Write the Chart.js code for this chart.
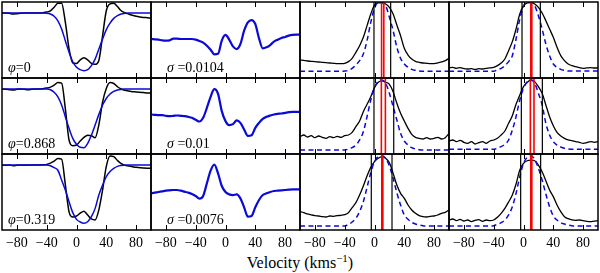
<!DOCTYPE html>
<html>
<head>
<meta charset="utf-8">
<script src="https://cdn.jsdelivr.net/npm/chart.js@4.4.1/dist/chart.umd.min.js"></script>
<style>
html, body { margin: 0; padding: 0; background: #fff; }
#fig { position: relative; width: 600px; height: 273px; overflow: hidden; }
#fig canvas { position: absolute; }
#xlabel { position: absolute; left: 0; top: 254px; width: 600px; text-align: center;
  font: 16px "Liberation Serif", serif; line-height: 18px; color: #000; }
#xlabel sup { font-size: 11px; vertical-align: 6px; line-height: 0; }
</style>
</head>
<body>
<div id="fig"><div id="xlabel">Velocity (kms<sup>−1</sup>)</div></div>
<script>
// velocity grid, km/s
const vel = [-100, -95, -90, -85, -80, -75, -70, -65, -60, -55, -50, -45, -40, -35, -30, -25, -20, -15, -10, -5,
  0, 5, 10, 15, 20, 25, 30, 35, 40, 45, 50, 55, 60, 65, 70, 75, 80, 85, 90, 95, 100];
const tickVel = [-80, -40, 0, 40, 80];
const phases = ['0', '0.868', '0.319'];
const sigmas = ['0.0104', '0.01', '0.0076'];

// column 1: observed (black) and model (blue) absorption profiles
const obsPhi0 = [1.00, 1.00, 0.995, 0.985, 0.99, 0.995, 1.00, 1.00, 1.00, 1.00, 1.00, 1.005, 1.015,
  1.035, 1.09, 1.15, 1.15, 0.86, 0.45, 0.23, 0.225,
  0.28, 0.31, 0.28, 0.225, 0.21, 0.27, 0.65, 1.035, 1.14, 1.15,
  1.10, 1.035, 1.005, 0.985, 0.965, 0.95, 0.94, 0.933, 0.928, 0.923];
const modPhi0 = [1, 1, 1, 1, 1, 1, 1, 1, 1, 1, 1, 1, 0.998,
  0.985, 0.95, 0.88, 0.755, 0.575, 0.395, 0.25, 0.165,
  0.128, 0.113, 0.128, 0.19, 0.29, 0.445, 0.60, 0.745, 0.845, 0.918,
  0.96, 0.985, 0.995, 1, 1, 1, 1, 1, 1, 1];
const obsPhi868 = [0.995, 0.995, 0.99, 0.985, 0.995, 1.0, 0.995, 0.99, 0.995, 1.0, 1.0, 1.005, 1.015,
  1.03, 1.06, 1.10, 1.09, 0.70, 0.215, 0.128, 0.138,
  0.20, 0.256, 0.29, 0.28, 0.25, 0.45, 0.80, 1.01, 1.10, 1.085,
  1.035, 1.0, 0.98, 0.97, 0.96, 0.955, 0.95, 0.945, 0.94, 0.94];
const modPhi868 = [1, 1, 1, 1, 1, 1, 1, 1, 1, 1, 1, 1, 1,
  0.99, 0.95, 0.88, 0.755, 0.575, 0.395, 0.24, 0.15,
  0.103, 0.097, 0.164, 0.29, 0.445, 0.61, 0.755, 0.855, 0.923, 0.964,
  0.985, 0.995, 1, 1, 1, 1, 1, 1, 1, 1];
const obsPhi319 = [1.0, 0.995, 1.0, 0.99, 0.995, 1.0, 0.995, 1.0, 1.0, 1.0, 1.0, 1.005, 1.01,
  1.03, 1.06, 1.10, 1.09, 0.70, 0.28, 0.20, 0.215,
  0.26, 0.29, 0.23, 0.17, 0.155, 0.31, 0.615, 0.98, 1.14, 1.13,
  1.07, 1.02, 0.995, 0.985, 0.975, 0.965, 0.96, 0.955, 0.952, 0.95];
const modPhi319 = [1, 1, 1, 1, 1, 1, 1, 1, 1, 1, 1, 1, 1,
  0.99, 0.96, 0.92, 0.77, 0.615, 0.435, 0.267, 0.164,
  0.123, 0.103, 0.128, 0.205, 0.333, 0.538, 0.69, 0.82, 0.90, 0.95,
  0.98, 0.993, 1, 1, 1, 1, 1, 1, 1, 1];

// column 2: residuals (per cent)
const residPhi0 = [0.105, 0.07, 0.035, -0.035, -0.07, -0.035, 0.14, 0.14, 0.105, 0.105, 0.105, 0.105, 0.035,
  -0.105, -0.28, -0.6, -1.02, -1.51, -1.45, -0.07, 0.53,
  0.035, -0.67, -0.95, -0.42, 0.98, 1.86, 2.1, 1.68, 0.175, -0.88,
  -0.77, -0.53, -0.175, 0.035, 0.21, 0.32, 0.46, 0.53, 0.56, 0.56];
const residPhi868 = [0.158, 0.123, 0.088, 0.088, 0.018, -0.018, 0.018, 0.053, 0.018, -0.018, -0.088, -0.193, -0.4,
  -0.58, -0.19, 0.86, 2.02, 2.82, 2.33, 0.51, -0.54,
  -0.96, -0.86, -0.47, -0.72, -1.42, -2.09, -2.02, -1.25, -0.72, -0.3,
  -0.09, 0.05, 0.16, 0.23, 0.26, 0.33, 0.4, 0.44, 0.44, 0.44];
const residPhi319 = [-0.14, -0.07, 0, 0.07, 0.14, 0.175, 0.21, 0.21, 0.14, 0.035, -0.07, -0.21, -0.42,
  -0.7, -0.42, 0.91, 2.25, 2.88, 1.96, 0.63, 0,
  -0.25, -0.32, -0.25, -0.67, -1.61, -2.6, -2.53, -1.61, -0.84, -0.32,
  -0.14, 0, 0.105, 0.14, 0.175, 0.21, 0.245, 0.28, 0.28, 0.28];

// columns 3 and 4: emission profiles, observed (black) and model (blue dashed)
const emObsA0 = [1.229, 1.222, 1.208, 1.201, 1.194, 1.187, 1.18, 1.173, 1.166, 1.159, 1.152, 1.152, 1.159,
  1.194, 1.264, 1.39, 1.53, 1.706, 1.952, 2.197, 2.387,
  2.43, 2.43, 2.408, 2.338, 2.197, 1.966, 1.741, 1.475, 1.334, 1.25,
  1.201, 1.18, 1.166, 1.159, 1.152, 1.152, 1.166, 1.187, 1.215, 1.264];
const emModA0 = [0.99, 0.99, 0.99, 0.99, 0.99, 0.99, 0.99, 0.99, 0.99, 0.99, 0.99, 0.99, 0.997,
  1.011, 1.054, 1.124, 1.215, 1.355, 1.636, 2.022, 2.317,
  2.44, 2.44, 2.373, 2.127, 1.846, 1.496, 1.264, 1.145, 1.075, 1.032,
  1.011, 0.997, 0.99, 0.99, 0.99, 0.99, 0.99, 0.99, 0.99, 0.99];
const emObsB0 = [1.061, 1.075, 1.054, 1.068, 1.046, 1.039, 1.046, 1.032, 1.046, 1.039, 1.054, 1.061, 1.075,
  1.11, 1.166, 1.25, 1.425, 1.615, 1.882, 2.197, 2.373,
  2.429, 2.44, 2.408, 2.338, 2.218, 2.057, 1.882, 1.706, 1.496, 1.32,
  1.215, 1.145, 1.11, 1.089, 1.068, 1.054, 1.061, 1.068, 1.061, 1.061];
const emModB0 = [0.99, 0.99, 0.99, 0.99, 0.99, 0.99, 0.99, 0.99, 0.99, 0.99, 0.99, 0.99, 0.99,
  1.025, 1.054, 1.11, 1.194, 1.32, 1.671, 2.092, 2.359,
  2.443, 2.44, 2.373, 2.162, 1.882, 1.566, 1.32, 1.145, 1.075, 1.032,
  1.011, 0.997, 0.997, 0.997, 0.997, 0.997, 0.997, 0.997, 0.997, 0.997];
const emObsA868 = [1.215, 1.25, 1.208, 1.236, 1.194, 1.229, 1.201, 1.18, 1.215, 1.194, 1.222, 1.201, 1.236,
  1.25, 1.306, 1.425, 1.545, 1.741, 1.896, 2.057, 2.247,
  2.36, 2.39, 2.36, 2.317, 2.16, 1.917, 1.706, 1.545, 1.39, 1.264,
  1.201, 1.18, 1.166, 1.194, 1.166, 1.18, 1.201, 1.166, 1.194, 1.285];
const emModA868 = [0.934, 0.934, 0.934, 0.934, 0.934, 0.934, 0.934, 0.934, 0.934, 0.934, 0.934, 0.934, 0.934,
  0.955, 0.983, 1.039, 1.145, 1.32, 1.636, 1.987, 2.247,
  2.387, 2.41, 2.339, 2.127, 1.846, 1.566, 1.285, 1.124, 1.039, 0.983,
  0.955, 0.941, 0.934, 0.934, 0.934, 0.934, 0.934, 0.934, 0.934, 0.934];
const emObsB868 = [1.124, 1.145, 1.11, 1.138, 1.096, 1.075, 1.11, 1.061, 1.089, 1.11, 1.075, 1.124, 1.145,
  1.18, 1.25, 1.334, 1.496, 1.657, 1.896, 2.092, 2.268,
  2.359, 2.41, 2.374, 2.268, 2.127, 1.882, 1.636, 1.446, 1.306, 1.229,
  1.18, 1.145, 1.131, 1.11, 1.096, 1.075, 1.089, 1.11, 1.096, 1.11];
const emModB868 = [0.948, 0.948, 0.948, 0.948, 0.948, 0.948, 0.948, 0.948, 0.948, 0.948, 0.948, 0.948, 0.948,
  0.976, 1.004, 1.054, 1.145, 1.355, 1.636, 1.987, 2.232,
  2.373, 2.41, 2.339, 2.127, 1.882, 1.496, 1.25, 1.11, 1.039, 0.997,
  0.969, 0.955, 0.948, 0.948, 0.948, 0.948, 0.948, 0.948, 0.948, 0.948];
const emObsA319 = [1.236, 1.215, 1.187, 1.166, 1.152, 1.145, 1.131, 1.124, 1.145, 1.138, 1.152, 1.159, 1.173,
  1.215, 1.32, 1.425, 1.587, 1.776, 1.987, 2.169, 2.289,
  2.36, 2.394, 2.36, 2.267, 2.043, 1.797, 1.622, 1.516, 1.376, 1.271,
  1.201, 1.152, 1.131, 1.124, 1.138, 1.145, 1.166, 1.201, 1.222, 1.271];
const emModA319 = [0.934, 0.934, 0.934, 0.934, 0.934, 0.934, 0.934, 0.934, 0.934, 0.934, 0.934, 0.934, 0.934,
  0.969, 1.018, 1.096, 1.236, 1.446, 1.748, 2.057, 2.289,
  2.394, 2.408, 2.36, 2.199, 1.938, 1.636, 1.376, 1.166, 1.075, 1.011,
  0.976, 0.955, 0.941, 0.934, 0.934, 0.934, 0.934, 0.934, 0.934, 0.934];
const emObsB319 = [1.061, 1.082, 1.046, 1.075, 1.039, 1.061, 1.025, 1.054, 1.068, 1.032, 1.061, 1.046, 1.061,
  1.117, 1.201, 1.306, 1.44, 1.587, 1.818, 2.113, 2.253,
  2.308, 2.32, 2.308, 2.218, 2.078, 1.889, 1.692, 1.552, 1.376, 1.236,
  1.131, 1.089, 1.061, 1.054, 1.061, 1.046, 1.032, 1.025, 1.039, 1.046];
const emModB319 = [0.934, 0.934, 0.934, 0.934, 0.934, 0.934, 0.934, 0.934, 0.934, 0.934, 0.934, 0.934, 0.941,
  0.969, 1.004, 1.06, 1.166, 1.341, 1.622, 1.973, 2.253,
  2.38, 2.408, 2.339, 2.15, 1.903, 1.608, 1.341, 1.145, 1.06, 1.004,
  0.976, 0.955, 0.941, 0.934, 0.934, 0.934, 0.934, 0.934, 0.934, 0.934];

// vertical markers (km/s) for the emission panels, row by row, col 3 then col 4
const blackMarks = [[-0.7, 21.7], [-2, 22.6], [-0.7, 25.8], [-2.9, 25.3], [-4.3, 23.5], [-3.8, 23]];
const redMarks = [[9.5, 12.5], [10.5], [9.2, 14.6], [9.2, 14.1], [10.5], [10.5]];

const colX = [2, 151, 300, 449];
const rowY = [2, 78, 154];
const panelW = 149, panelH = 76, pad = 2, axisH = 26;
const blue = '#0a0ad8';

Chart.defaults.font.family = '"Liberation Serif", "Times New Roman", serif';
Chart.defaults.font.size = 14;
Chart.defaults.color = '#000';

const pts = arr => vel.map((v, i) => ({x: v, y: arr[i]}));
const vline = (v, lo, hi) => [{x: v, y: lo}, {x: v, y: hi}];

const framePlugin = {
  id: 'frame',
  afterDraw(chart, args, opts) {
    const {ctx, chartArea: a} = chart;
    const xs = chart.scales.x;
    ctx.save();
    ctx.strokeStyle = '#000';
    ctx.lineWidth = 1;
    ctx.beginPath();
    tickVel.forEach(v => {
      const px = Math.round(xs.getPixelForValue(v)) + 0.5;
      ctx.moveTo(px, a.top); ctx.lineTo(px, a.top + 5);
      ctx.moveTo(px, a.bottom); ctx.lineTo(px, a.bottom - 5);
    });
    ctx.stroke();
    ctx.lineWidth = 1.5;
    ctx.strokeRect(a.left, a.top, a.width, a.height);
    if (opts.greek) {
      const x0 = a.left + opts.dx, y0 = a.bottom - opts.dy;
      ctx.fillStyle = '#000';
      ctx.textBaseline = 'alphabetic';
      ctx.font = 'italic 14px "Liberation Serif"';
      ctx.fillText(opts.greek, x0, y0);
      const w = ctx.measureText(opts.greek).width;
      ctx.font = '14px "Liberation Serif"';
      ctx.fillText(opts.text, x0 + w, y0);
    }
    ctx.restore();
  }
};

function makePanel(col, row, yMin, yMax, datasets, label) {
  const bottomRow = row === 2;
  const c = document.createElement('canvas');
  c.width = panelW + 2 * pad;
  c.height = panelH + pad + (bottomRow ? axisH : pad);
  c.style.left = (colX[col] - pad) + 'px';
  c.style.top = (rowY[row] - pad) + 'px';
  document.getElementById('fig').appendChild(c);
  new Chart(c, {
    type: 'line',
    data: {datasets},
    options: {
      responsive: false,
      animation: false,
      layout: {padding: {left: pad, right: pad, top: pad, bottom: bottomRow ? 0 : pad}},
      elements: {point: {radius: 0}, line: {cubicInterpolationMode: 'monotone'}},
      plugins: {legend: {display: false}, tooltip: {enabled: false}, frame: label || {}},
      scales: {
        x: {
          type: 'linear', min: -100, max: 100, display: bottomRow,
          grid: {display: false, drawTicks: false}, border: {display: false},
          ticks: {padding: 5, font: {size: 14}, callback: v => String(v).replace('-', '\u2212')},
          afterBuildTicks: s => { s.ticks = tickVel.map(v => ({value: v})); },
          afterFit: s => { if (bottomRow) s.height = axisH; }
        },
        y: {display: false, min: yMin, max: yMax}
      }
    },
    plugins: [framePlugin]
  });
}

const absObs = [obsPhi0, obsPhi868, obsPhi319];
const absMod = [modPhi0, modPhi868, modPhi319];
const resid = [residPhi0, residPhi868, residPhi319];
const emObs = [[emObsA0, emObsB0], [emObsA868, emObsB868], [emObsA319, emObsB319]];
const emMod = [[emModA0, emModB0], [emModA868, emModB868], [emModA319, emModB319]];
const emMin = 0.85, emMax = 2.45;

for (let r = 0; r < 3; r++) {
  makePanel(0, r, 0, 1.17, [
    {data: pts(absMod[r]), borderColor: blue, borderWidth: 1.5},
    {data: pts(absObs[r]), borderColor: '#000', borderWidth: 1.5}
  ], {greek: '\u03c6', text: '=' + phases[r], dx: 6, dy: 6});

  makePanel(1, r, -4, 4, [
    {data: pts(resid[r]), borderColor: blue, borderWidth: 2.2}
  ], {greek: '\u03c3', text: ' =' + sigmas[r], dx: 16, dy: 6});

  for (let k = 0; k < 2; k++) {
    const idx = r * 2 + k;
    const sets = [];
    redMarks[idx].forEach(v => sets.push({data: vline(v, emMin, emMax), borderColor: '#ff0000', borderWidth: redMarks[idx].length > 1 ? 1.6 : 2.6}));
    blackMarks[idx].forEach(v => sets.push({data: vline(v, emMin, emMax), borderColor: '#000', borderWidth: 1.2}));
    sets.push({data: pts(emMod[r][k]), borderColor: blue, borderWidth: 1.5, borderDash: [5, 3.5]});
    sets.push({data: pts(emObs[r][k]), borderColor: '#000', borderWidth: 1.3});
    makePanel(2 + k, r, emMin, emMax, sets);
  }
}
</script>
</body>
</html>
